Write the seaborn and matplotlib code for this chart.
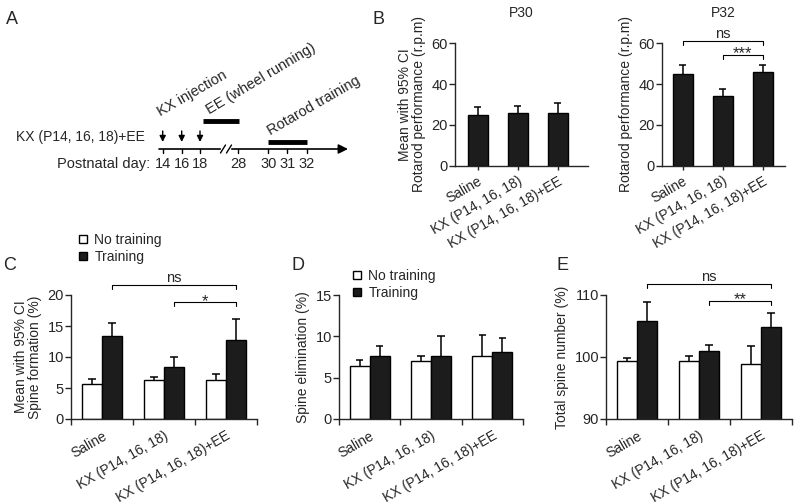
import numpy as np
import pandas as pd
import matplotlib
matplotlib.use("Agg")
import matplotlib.pyplot as plt
import seaborn as sns
from matplotlib.patches import Patch

# ---------------- data ----------------
groups = ["Saline", "KX (P14, 16, 18)", "KX (P14, 16, 18)+EE"]
conditions = ["No training", "Training"]

p30_mean = [25.0, 25.7, 26.0]
p30_err = [3.6, 3.4, 4.6]
p32_mean = [45.1, 34.0, 46.0]
p32_err = [4.1, 3.4, 3.2]

form_no = [5.7, 6.3, 6.3]
form_no_err = [0.8, 0.5, 0.9]
form_tr = [13.4, 8.4, 12.8]
form_tr_err = [2.1, 1.6, 3.4]

elim_no = [6.4, 7.0, 7.6]
elim_no_err = [0.7, 0.65, 2.6]
elim_tr = [7.6, 7.6, 8.1]
elim_tr_err = [1.2, 2.4, 1.75]

total_no = [99.4, 99.4, 98.9]
total_no_err = [0.5, 0.8, 2.9]
total_tr = [105.8, 101.0, 104.9]
total_tr_err = [3.0, 0.9, 2.2]

timeline_days = ["14", "16", "18", "28", "30", "31", "32"]
injection_days = ["14", "16", "18"]

# ---------------- style ----------------
sns.set_theme(style="ticks")
plt.rcParams["font.family"] = ["Liberation Sans", "DejaVu Sans"]
plt.rcParams["axes.linewidth"] = 1.0
plt.rcParams["xtick.major.width"] = 1.0
plt.rcParams["ytick.major.width"] = 1.0
plt.rcParams["xtick.minor.width"] = 1.0
TICK_FS = 10.5
LAB_FS = 10
TXT_FS = 10.5
XT_FS = 10
STAR_FS = 12
DARK = "#1c1c1c"

fig = plt.figure(figsize=(8, 5.04), dpi=100)

# overlay axes in pixel coordinates for the schematic and panel letters
ov = fig.add_axes([0, 0, 1, 1], zorder=-1)
ov.set_xlim(0, 800)
ov.set_ylim(504, 0)
ov.axis("off")
ov.patch.set_alpha(0)


def px_ax(left, right, top, bottom):
    return fig.add_axes([left / 800, 1 - bottom / 504, (right - left) / 800, (bottom - top) / 504])


def style(ax, ylim, yticks, ylabel, boundary_ticks):
    ax.set_ylim(*ylim)
    ax.set_yticks(yticks)
    ax.set_ylabel(ylabel, fontsize=LAB_FS, labelpad=4, linespacing=1.0)
    ax.set_xlabel("")
    ax.tick_params(axis="y", labelsize=TICK_FS, length=4, pad=1, direction="out")
    sns.despine(ax=ax)
    ax.set_xticks(range(len(groups)))
    ax.set_xticklabels(groups, rotation=30, ha="right", rotation_mode="anchor", fontsize=XT_FS)
    if boundary_ticks:
        ax.tick_params(axis="x", which="major", length=0, pad=7)
        ax.set_xticks(np.arange(-0.5, len(groups), 1.0), minor=True)
        ax.tick_params(axis="x", which="minor", length=4, direction="out")
    else:
        ax.tick_params(axis="x", which="major", length=3, pad=3)


def add_err(ax, errs_list):
    for cont, errs in zip(ax.containers, errs_list):
        for bar, e in zip(cont, errs):
            xc = bar.get_x() + bar.get_width() / 2
            top = bar.get_y() + bar.get_height()
            hw = bar.get_width() * 0.18
            ax.vlines(xc, top, top + e, color="black", lw=1.1, zorder=3)
            ax.hlines(top + e, xc - hw, xc + hw, color="black", lw=1.1, zorder=3)


def centers(cont):
    return [b.get_x() + b.get_width() / 2 for b in cont]


def bracket(ax, x1, x2, y, h, text):
    ax.plot([x1, x1, x2, x2], [y - h, y, y, y - h], color="black", lw=0.8, clip_on=False)
    if text.startswith("*"):
        fs, off = STAR_FS, -2.6
    else:
        fs, off = TXT_FS, 2.0
    ax.annotate(text, xy=((x1 + x2) / 2, y), xytext=(0, off), textcoords="offset points",
                ha="center", va="baseline", fontsize=fs, annotation_clip=False)


def simple_bars(ax, means):
    df = pd.DataFrame({"group": groups, "value": means})
    sns.barplot(data=df, x="group", y="value", ax=ax, color=DARK, width=0.5,
                edgecolor="black", linewidth=1, errorbar=None, saturation=1)


def hue_bars(ax, no, tr):
    df = pd.DataFrame({"group": groups * 2,
                       "cond": [c for c in conditions for _ in groups],
                       "value": list(no) + list(tr)})
    sns.barplot(data=df, x="group", y="value", hue="cond", hue_order=conditions,
                palette=["white", DARK], width=0.65, edgecolor="black", linewidth=1,
                errorbar=None, saturation=1, legend=False, ax=ax)


legend_handles = [Patch(facecolor="white", edgecolor="black", lw=1),
                  Patch(facecolor=DARK, edgecolor="black", lw=1)]
legend_kw = dict(loc="upper left", frameon=False, handlelength=0.55, handleheight=0.55,
                 handletextpad=0.55, labelspacing=0.2, borderpad=0, borderaxespad=0,
                 fontsize=LAB_FS)

# ---------------- Panel B ----------------
axB1 = px_ax(455, 588, 43.3, 165.7)
simple_bars(axB1, p30_mean)
add_err(axB1, [p30_err])
style(axB1, (0, 60), [0, 20, 40, 60], "Mean with 95% CI\nRotarod performance (r.p.m)", False)
axB1.set_xlim(-0.5625, 2.76)
axB1.set_title("P30", fontsize=LAB_FS, pad=19)

axB2 = px_ax(661.7, 785, 43.3, 165.7)
simple_bars(axB2, p32_mean)
add_err(axB2, [p32_err])
style(axB2, (0, 60), [0, 20, 40, 60], "Rotarod performance (r.p.m)", False)
axB2.set_xlim(-0.525, 2.56)
axB2.set_title("P32", fontsize=LAB_FS, pad=19)
cb = centers(axB2.containers[0])
bracket(axB2, cb[0], cb[2], 61.3, 2.0, "ns")
bracket(axB2, cb[1], cb[2], 54.3, 2.0, "***")

# ---------------- Panel C ----------------
axC = px_ax(71, 257, 295, 419)
hue_bars(axC, form_no, form_tr)
add_err(axC, [form_no_err, form_tr_err])
style(axC, (0, 20), [0, 5, 10, 15, 20], "Mean with 95% CI\nSpine formation (%)", True)
axC.set_xlim(-0.5, 2.5)
ct = centers(axC.containers[1])
bracket(axC, ct[0], ct[2], 21.6, 0.65, "ns")
bracket(axC, ct[1], ct[2], 18.8, 0.65, "*")
axC.legend(legend_handles, conditions, bbox_to_anchor=(0.043, 1.5), **legend_kw)

# ---------------- Panel D ----------------
axD = px_ax(339, 523, 295, 419)
hue_bars(axD, elim_no, elim_tr)
add_err(axD, [elim_no_err, elim_tr_err])
style(axD, (0, 15), [0, 5, 10, 15], "Spine elimination (%)", True)
axD.set_xlim(-0.5, 2.5)
axD.legend(legend_handles, conditions, bbox_to_anchor=(0.076, 1.21), **legend_kw)

# ---------------- Panel E ----------------
axE = px_ax(606, 792, 295, 419)
hue_bars(axE, total_no, total_tr)
add_err(axE, [total_no_err, total_tr_err])
style(axE, (90, 110), [90, 100, 110], "Total spine number (%)", True)
axE.set_xlim(-0.5, 2.5)
et = centers(axE.containers[1])
bracket(axE, et[0], et[2], 111.8, 0.65, "ns")
bracket(axE, et[1], et[2], 109.1, 0.65, "**")

# ---------------- Panel A (schematic) ----------------
day_x = dict(zip(timeline_days, [162.7, 181.7, 200.0, 238.3, 268.3, 287.3, 306.7]))
line_y = 149
ov.annotate("", xy=(348, line_y), xytext=(159, line_y),
            arrowprops=dict(arrowstyle="-|>", lw=1.2, color="black", mutation_scale=14,
                            shrinkA=0, shrinkB=0))
for d in timeline_days:
    ov.plot([day_x[d], day_x[d]], [line_y, line_y + 4], color="black", lw=1)
    ov.text(day_x[d], 164, d, ha="center", va="center", fontsize=TXT_FS)
# axis break
ov.add_patch(plt.Rectangle((221, line_y - 2), 9, 4, color="white", zorder=5))
for bx in (220.5, 226.5):
    ov.plot([bx, bx + 5], [line_y + 4, line_y - 4], color="black", lw=1, zorder=6)
for d in injection_days:
    ov.annotate("", xy=(day_x[d], 142), xytext=(day_x[d], 131),
                arrowprops=dict(arrowstyle="-|>", lw=1, color="black", mutation_scale=9,
                                shrinkA=0, shrinkB=0))
ov.plot([202.7, 239.3], [120.7, 120.7], color="black", lw=3.5, solid_capstyle="butt")
ov.plot([268.3, 307.3], [141.7, 141.7], color="black", lw=3.5, solid_capstyle="butt")
ov.text(161, 116, "KX injection", rotation=30, ha="left", va="baseline",
        rotation_mode="anchor", fontsize=TXT_FS)
ov.text(209.5, 114, "EE (wheel running)", rotation=31, ha="left", va="baseline",
        rotation_mode="anchor", fontsize=TXT_FS)
ov.text(271, 135, "Rotarod training", rotation=30, ha="left", va="baseline",
        rotation_mode="anchor", fontsize=TXT_FS)
ov.text(16.5, 137, "KX (P14, 16, 18)+EE", ha="left", va="center", fontsize=10)
ov.text(150, 164, "Postnatal day:", ha="right", va="center", fontsize=TXT_FS)

# panel letters
for lab, x, y in [("A", 12, 20), ("B", 378, 20), ("C", 10, 266), ("D", 298, 266), ("E", 562, 266)]:
    ov.text(x, y, lab, ha="center", va="center", fontsize=13)

fig.savefig("out.png", dpi=100)
